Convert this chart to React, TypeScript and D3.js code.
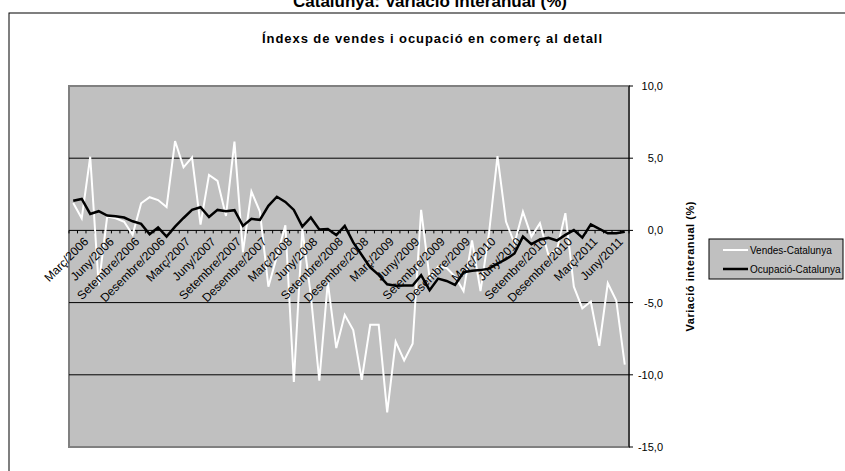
import * as d3 from "d3";
import React from "react";

const monthNames = [
  "Gener", "Febrer", "Març", "Abril", "Maig", "Juny",
  "Juliol", "Agost", "Setembre", "Octubre", "Novembre", "Desembre",
];

// Variació interanual (%), març 2006 - agost 2011
const vendes = [
  1.9, 0.84, 5.1, -3.8, 0.96, 0.84, 0.6, -0.31, 1.88, 2.3, 2.1, 1.62,
  6.19, 4.37, 5.06, 0.4, 3.84, 3.43, 1.0, 6.15, -1.5, 2.69, 1.3, -3.9,
  -1.8, 0.35, -10.5, 0.1, -4.5, -10.4, -3.6, -8.15, -5.85, -6.9, -10.35, -6.54,
  -6.54, -12.6, -7.7, -9.0, -7.85, 1.42, -3.3, -2.5, -2.6, -3.2, -4.2, -0.7,
  -4.2, -0.2, 5.15, 0.61, -0.9, 1.3, -0.43, 0.5, -1.7, -1.35, 1.19, -3.9,
  -5.4, -4.93, -8.0, -3.66, -4.85, -9.3,
];

const ocupacio = [
  2.05, 2.18, 1.14, 1.33, 1.03, 0.98, 0.89, 0.63, 0.45, -0.27, 0.2, -0.43,
  0.26, 0.86, 1.42, 1.6, 0.93, 1.42, 1.33, 1.4, 0.31, 0.8, 0.73, 1.7,
  2.33, 1.97, 1.42, 0.26, 0.9, 0.07, 0.1, -0.32, 0.31, -0.83, -1.7, -2.56,
  -3.08, -3.73, -3.84, -3.82, -3.82, -3.1, -4.14, -3.34, -3.5, -3.77, -2.9, -2.79,
  -2.75, -2.65, -2.3, -2.0, -1.6, -0.43, -0.95, -0.63, -0.52, -0.7, -0.31, 0.02,
  -0.5, 0.42, 0.1, -0.2, -0.2, -0.09,
];

const yTicks = [10, 5, 0, -5, -10, -15];
const gridValues = [5, -5, -10];

const categories = vendes.map((_, i) => {
  const m = 2 + i;
  return `${monthNames[m % 12]}/${2006 + Math.floor(m / 12)}`;
});

const W = 845;
const H = 471;
const plot = { left: 69, right: 629, top: 86, bottom: 447 };
const font = "'Liberation Sans', Arial, sans-serif";

const App = () => {
  const x = d3
    .scaleBand<string>()
    .domain(categories)
    .range([plot.left, plot.right])
    .padding(0);
  const bw = x.bandwidth();
  const cx = (i: number) => (x(categories[i]) ?? 0) + bw / 2;
  const y = d3.scaleLinear().domain([-15, 10]).range([plot.bottom, plot.top]);

  const line = d3
    .line<number>()
    .x((_, i) => cx(i))
    .y((d) => y(d));

  const fmt = (v: number) => v.toFixed(1).replace(".", ",");

  return (
    <svg
      width={W}
      height={H}
      style={{ position: "absolute", left: 0, top: 0, background: "#fff" }}
      fontFamily={font}
    >
      <rect x={9} y={13} width={900} height={600} fill="#fff" stroke="#000" strokeWidth={1} />
      <text x={430} y={7} textAnchor="middle" fontSize={17} fontWeight="bold">
        Catalunya: Variació interanual (%)
      </text>
      <text
        x={432}
        y={43}
        textAnchor="middle"
        fontSize={13}
        fontWeight="bold"
        textLength={340}
        lengthAdjust="spacing"
      >
        Índexs de vendes i ocupació en comerç al detall
      </text>

      {/* plot area */}
      <rect
        x={plot.left}
        y={plot.top}
        width={plot.right - plot.left}
        height={plot.bottom - plot.top}
        fill="#c0c0c0"
        stroke="#808080"
        strokeWidth={2}
      />
      {gridValues.map((v) => (
        <line
          key={v}
          x1={plot.left}
          x2={plot.right}
          y1={y(v)}
          y2={y(v)}
          stroke="#000"
          strokeWidth={1}
        />
      ))}

      {/* category axis at zero */}
      <line x1={plot.left} x2={plot.right} y1={y(0)} y2={y(0)} stroke="#000" strokeWidth={1} />
      {categories.map((c) => (
        <line
          key={c}
          x1={x(c)}
          x2={x(c)}
          y1={y(0)}
          y2={y(0) + 3}
          stroke="#000"
        />
      ))}
      <line x1={plot.right} x2={plot.right} y1={y(0)} y2={y(0) + 3} stroke="#000" />

      {/* series */}
      <path d={line(vendes) ?? undefined} fill="none" stroke="#fff" strokeWidth={2} />
      <path d={line(ocupacio) ?? undefined} fill="none" stroke="#000" strokeWidth={2.5} />

      {/* category labels */}
      {categories.map((c, i) =>
        i % 3 === 0 ? (
          <text
            key={c}
            transform={`translate(${cx(i) + 16},${y(0) + 12}) rotate(-45)`}
            textAnchor="end"
            fontSize={12}
            fill="#000"
          >
            {c}
          </text>
        ) : null,
      )}

      {/* value axis on the right */}
      <line x1={plot.right} x2={plot.right} y1={plot.top} y2={plot.bottom} stroke="#000" strokeWidth={1} />
      {yTicks.map((v) => (
        <g key={v}>
          <line x1={plot.right} x2={plot.right + 4} y1={y(v)} y2={y(v)} stroke="#000" />
          <text x={663} y={y(v) + 4} textAnchor="end" fontSize={11}>
            {fmt(v)}
          </text>
        </g>
      ))}
      <text
        transform={`translate(694,${(plot.top + plot.bottom) / 2}) rotate(-90)`}
        textAnchor="middle"
        fontSize={11}
        fontWeight="bold"
        textLength={130}
        lengthAdjust="spacing"
      >
        Variació interanual (%)
      </text>

      {/* legend */}
      <rect x={709} y={239} width={134} height={40} fill="#c0c0c0" stroke="#000" strokeWidth={1} />
      <line x1={723} x2={748} y1={250} y2={250} stroke="#fff" strokeWidth={2} />
      <text x={750} y={253.5} fontSize={10}>
        Vendes-Catalunya
      </text>
      <line x1={723} x2={748} y1={269} y2={269} stroke="#000" strokeWidth={2.5} />
      <text x={750} y={272.5} fontSize={10}>
        Ocupació-Catalunya
      </text>
    </svg>
  );
};

export default App;
